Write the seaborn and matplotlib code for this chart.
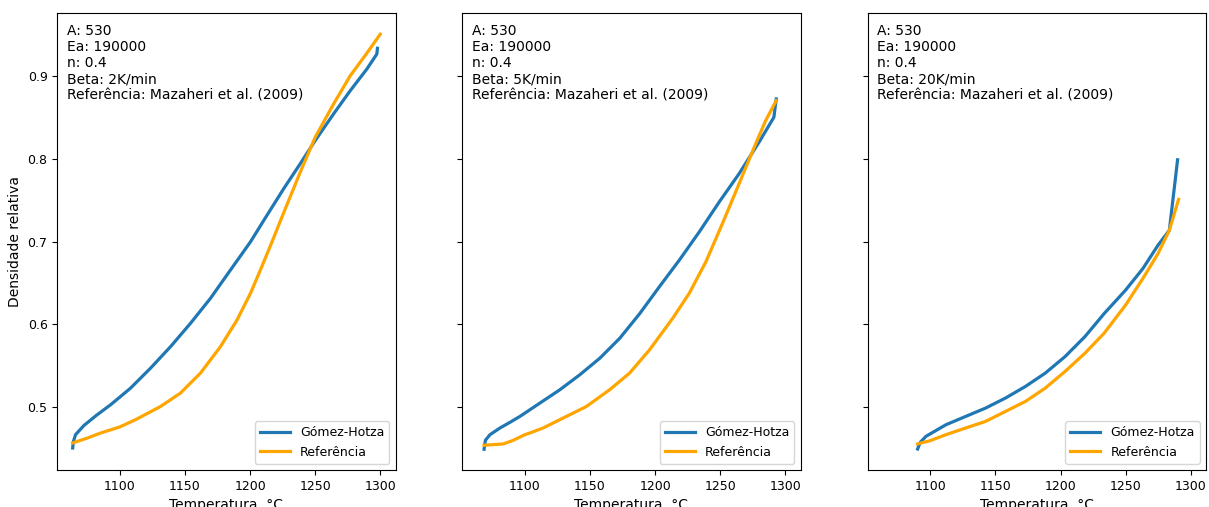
import matplotlib
matplotlib.use("Agg")
import matplotlib.pyplot as plt
import seaborn as sns
import pandas as pd

# Beta = 2 K/min
T1_gh = [1063.8, 1064.3, 1066.0, 1072.4, 1082.0, 1092.9, 1108.2, 1123.5, 1138.9, 1154.2,
         1169.5, 1184.8, 1200.2, 1212.9, 1225.7, 1238.4, 1249.9, 1264.0, 1276.8, 1289.5,
         1297.2, 1297.7]
rho1_gh = [0.4505, 0.458, 0.4666, 0.4777, 0.490, 0.5028, 0.5229, 0.547, 0.5731, 0.6013,
           0.6315, 0.6656, 0.6998, 0.732, 0.7641, 0.7943, 0.8224, 0.8546, 0.8827, 0.9088,
           0.927, 0.934]
T1_ref = [1063.8, 1075.0, 1085.2, 1100.0, 1112.0, 1131.2, 1146.5, 1161.8, 1177.2, 1189.9,
          1200.2, 1207.8, 1215.5, 1225.7, 1238.4, 1249.9, 1264.0, 1276.8, 1289.5, 1299.8]
rho1_ref = [0.4566, 0.4625, 0.4686, 0.476, 0.4847, 0.5007, 0.5169, 0.541, 0.5731, 0.6053,
            0.6375, 0.6656, 0.695, 0.735, 0.784, 0.8264, 0.8666, 0.9008, 0.928, 0.951]

# Beta = 5 K/min
T2_gh = [1068.7, 1069.7, 1073.2, 1080.9, 1088.5, 1096.2, 1111.5, 1126.8, 1142.1, 1157.5,
         1172.8, 1188.1, 1203.2, 1218.5, 1233.8, 1249.1, 1264.4, 1279.7, 1291.1, 1292.9]
rho2_gh = [0.449, 0.4598, 0.4666, 0.4747, 0.4815, 0.4887, 0.5048, 0.5209, 0.539, 0.5591,
           0.5832, 0.613, 0.6455, 0.6777, 0.7118, 0.748, 0.7823, 0.8204, 0.8506, 0.8727]
T2_ref = [1068.7, 1075.8, 1083.4, 1091.1, 1100.0, 1103.8, 1114.0, 1129.3, 1147.2, 1165.0,
          1180.3, 1195.6, 1213.4, 1226.1, 1238.9, 1251.6, 1264.4, 1277.1, 1284.8, 1292.9]
rho2_ref = [0.4538, 0.4546, 0.4554, 0.4598, 0.4666, 0.4686, 0.4747, 0.4867, 0.5007, 0.5209,
            0.541, 0.5691, 0.6073, 0.6375, 0.6757, 0.722, 0.7702, 0.8184, 0.8466, 0.8707]

# Beta = 20 K/min
T3_gh = [1090.3, 1092.4, 1096.7, 1112.0, 1127.2, 1142.5, 1157.7, 1173.0, 1188.2, 1203.4,
         1218.7, 1233.4, 1249.9, 1263.2, 1274.8, 1283.5, 1289.8]
rho3_gh = [0.4493, 0.4574, 0.4646, 0.4786, 0.4887, 0.4988, 0.5109, 0.5249, 0.541, 0.561,
           0.5852, 0.613, 0.6415, 0.6676, 0.6958, 0.7139, 0.7991]
T3_ref = [1090.3, 1100.0, 1112.0, 1127.2, 1142.5, 1157.7, 1173.0, 1188.2, 1203.4, 1218.7,
          1233.4, 1249.9, 1263.2, 1274.8, 1283.5, 1290.6]
rho3_ref = [0.4554, 0.4594, 0.4666, 0.4747, 0.4827, 0.4947, 0.5068, 0.5229, 0.543, 0.5651,
            0.5893, 0.6234, 0.6556, 0.6857, 0.7139, 0.7513]

betas = ["2K/min", "5K/min", "20K/min"]
series = [(T1_gh, rho1_gh, T1_ref, rho1_ref),
          (T2_gh, rho2_gh, T2_ref, rho2_ref),
          (T3_gh, rho3_gh, T3_ref, rho3_ref)]

label_gh = "Gómez-Hotza"
label_ref = "Referência"

fig, axes = plt.subplots(1, 3, sharex=True, sharey=True, figsize=(12.09, 5.07), dpi=100)
lefts = [0.0474, 0.3824, 0.7177]
for ax, left, beta, (tg, rg, tr, rr) in zip(axes, lefts, betas, series):
    ax.set_position([left, 0.073, 0.2798, 0.9004])
    dg = pd.DataFrame({"T": tg, "rho": rg})
    dr = pd.DataFrame({"T": tr, "rho": rr})
    sns.lineplot(data=dg, x="T", y="rho", ax=ax, color="#1f77b4", lw=2.3,
                 sort=False, estimator=None, label=label_gh)
    sns.lineplot(data=dr, x="T", y="rho", ax=ax, color="orange", lw=2.3,
                 sort=False, estimator=None, label=label_ref)
    ax.legend(loc="lower right", fontsize=9, handlelength=2.4)
    ax.set_xlabel("Temperatura, °C", fontsize=10)
    ax.set_ylabel("")
    ax.tick_params(labelsize=9)
    ax.text(0.028, 0.978,
            "A: 530\nEa: 190000\nn: 0.4\nBeta: " + beta + "\nReferência: Mazaheri et al. (2009)",
            transform=ax.transAxes, ha="left", va="top", fontsize=10)

axes[0].set_ylabel("Densidade relativa", fontsize=10)
axes[0].set_xticks([1100, 1150, 1200, 1250, 1300])
axes[0].set_yticks([0.5, 0.6, 0.7, 0.8, 0.9])

fig.savefig("out.png", dpi=100)
